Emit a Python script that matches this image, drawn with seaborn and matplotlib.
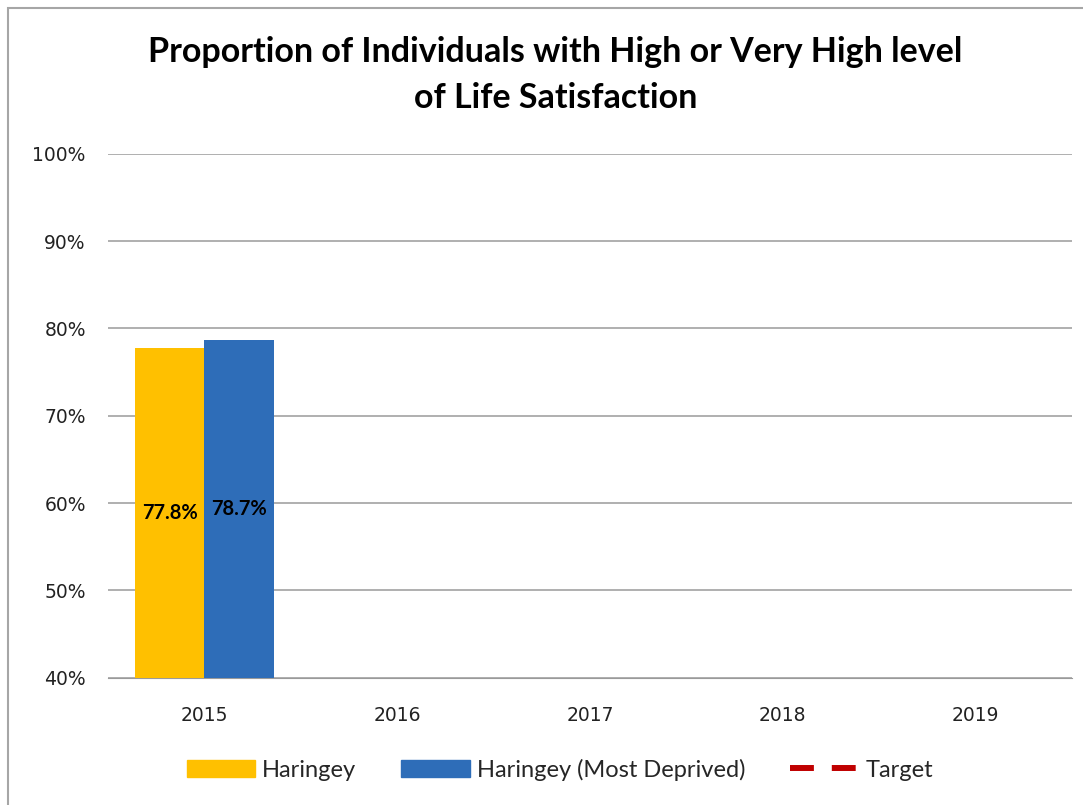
import numpy as np
import pandas as pd
import matplotlib
matplotlib.use("Agg")
import matplotlib.pyplot as plt
import seaborn as sns
from matplotlib.patches import Patch, Rectangle
from matplotlib.lines import Line2D
from matplotlib.ticker import FuncFormatter

years = ["2015", "2016", "2017", "2018", "2019"]
haringey = [77.8, np.nan, np.nan, np.nan, np.nan]
most_deprived = [78.7, np.nan, np.nan, np.nan, np.nan]
target = [np.nan, np.nan, np.nan, np.nan, np.nan]
series = ["Haringey", "Haringey (Most Deprived)"]
colors = {"Haringey": "#FFC000", "Haringey (Most Deprived)": "#2E6DB8"}

df = pd.DataFrame({
    "year": years * 2,
    "series": [series[0]] * 5 + [series[1]] * 5,
    "value": haringey + most_deprived,
})

sns.set_style("white")
plt.rcParams["font.family"] = ["Lato", "DejaVu Sans"]

fig = plt.figure(figsize=(10.83, 8.05), dpi=100)
ax = fig.add_axes([0.0997, 0.158, 0.890, 0.651])

sns.barplot(data=df, x="year", y="value", hue="series", order=years,
            hue_order=series, palette=colors, width=0.72, ax=ax, legend=False,
            saturation=1, linewidth=0, zorder=3)
# target series has no values yet
ax.plot(np.arange(len(years)), target, color="#C00000", ls="--", lw=3)
ax.set_xlim(-0.5, len(years) - 0.5)

for c in ax.containers:
    vals = [f"{v:.1f}%" if np.isfinite(v) else "" for v in c.datavalues]
    ax.bar_label(c, labels=vals, label_type="center", fontsize=14.5,
                 fontweight="bold", color="black")

ax.set_ylim(40, 100)
ax.set_yticks(range(40, 101, 10))
ax.yaxis.set_major_formatter(FuncFormatter(lambda v, p: f"{v:.0f}%"))
ax.grid(axis="y", color="#9a9a9a", lw=1.1, zorder=0)
ax.set_axisbelow(True)
for s in ["top", "right", "left"]:
    ax.spines[s].set_visible(False)
ax.spines["bottom"].set_color("#9a9a9a")
ax.tick_params(axis="both", length=0, labelsize=13.5, colors="#222222",
               labelfontfamily="DejaVu Sans")
ax.tick_params(axis="x", pad=20)
ax.tick_params(axis="y", pad=16)
ax.set_xlabel("")
ax.set_ylabel("")

fig.text(0.513, 0.907, "Proportion of Individuals with High or Very High level\nof Life Satisfaction",
         ha="center", va="center", fontsize=24.5, fontweight="bold",
         linespacing=1.55, color="black")

handles = [Patch(color=colors[series[0]]), Patch(color=colors[series[1]]),
           Line2D([], [], color="#C00000", ls="--", lw=4.3, dashes=(4.0, 3.0))]
fig.legend(handles, ["Haringey", "Haringey (Most Deprived)", "Target"],
           loc="center", bbox_to_anchor=(0.517, 0.044), ncol=3, frameon=False,
           fontsize=17, handlelength=2.9, handleheight=0.75, columnspacing=1.9,
           handletextpad=0.3)

fig.patches.append(Rectangle((8 / 1083, -0.1), 1.2, 1 - 8 / 805 + 0.1,
                             transform=fig.transFigure, fill=False,
                             edgecolor="#a6a6a6", lw=1.5, clip_on=False))

fig.savefig("out.png", dpi=100)
